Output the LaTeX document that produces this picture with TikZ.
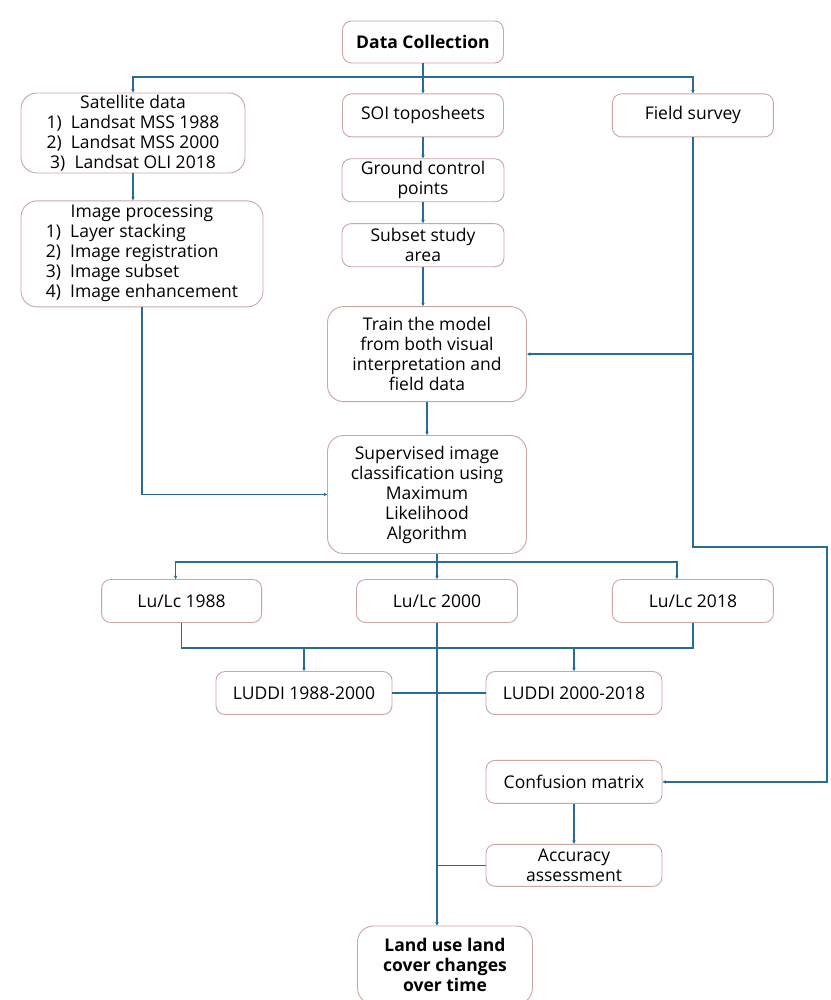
\documentclass[tikz,border=0pt]{standalone}
\usepackage{fontspec}
\setmainfont{Open Sans}
\usetikzlibrary{positioning,arrows.meta}

\definecolor{boxline}{RGB}{205,165,165}
\definecolor{flowline}{RGB}{38,108,150}

\tikzset{
  box/.style={draw=boxline, line width=0.9pt, rounded corners=9pt, fill=white,
    align=center, inner sep=1pt, text=black,
    font=\fontsize{17.5}{20}\selectfont},
  bigbox/.style={box, rounded corners=16pt},
  bbox/.style={box, font=\fontsize{17.5}{20}\selectfont\bfseries},
  flow/.style={draw=flowline, line width=1.3pt},
  >={Stealth[length=3.5pt,width=3.5pt]}
}

\begin{document}
\begin{tikzpicture}[x=1pt, y=-1pt]
\useasboundingbox[fill=white] (0,0) rectangle (830,1000);

% nodes
\node (dc) [bbox, minimum width=161pt, minimum height=42pt] at (423,42) {Data Collection};
\node (soi) [box, minimum width=161pt, minimum height=43pt, below=30pt of dc] {SOI toposheets};
\node (field) [box, minimum width=161pt, minimum height=43pt, right=108pt of soi] {Field survey};
\node (sat) [bigbox, minimum width=224pt, minimum height=80pt] at (133,133)
  {Satellite data\\ 1)~~Landsat MSS 1988\\ 2)~~Landsat MSS 2000\\ 3)~~Landsat OLI 2018};
\node (imgp) [bigbox, minimum width=242pt, minimum height=106pt, below=27pt of sat.south west, anchor=north west]
  {\begin{tabular}{@{}l@{}}\multicolumn{1}{c}{Image processing}\\ 1)~~Layer stacking\\ 2)~~Image registration\\ 3)~~Image subset\\ 4)~~Image enhancement\end{tabular}};
\node (gcp) [box, minimum width=162pt, minimum height=43pt, below=21pt of soi] {Ground control\\ points};
\node (sub) [box, minimum width=162pt, minimum height=43pt, below=21pt of gcp] {Subset study\\ area};
\node (train) [bigbox, minimum width=199pt, minimum height=95pt, below=39pt of sub, xshift=4pt]
  {Train the model\\ from both visual\\ interpretation and\\ field data};
\node (sup) [bigbox, minimum width=199pt, minimum height=118pt, below=33pt of train]
  {Supervised image\\ classification using\\ Maximum\\ Likelihood\\ Algorithm};
\node (lu00) [box, minimum width=161pt, minimum height=43pt] at (437,601) {Lu/Lc 2000};
\node (lu88) [box, minimum width=160pt, minimum height=43pt, left=94pt of lu00] {Lu/Lc 1988};
\node (lu18) [box, minimum width=161pt, minimum height=43pt, right=94pt of lu00] {Lu/Lc 2018};
\node (ld1) [box, minimum width=176pt, minimum height=43pt] at (304,693) {LUDDI 1988-2000};
\node (ld2) [box, minimum width=176pt, minimum height=43pt] at (574,693) {LUDDI 2000-2018};
\node (conf) [box, minimum width=176pt, minimum height=43pt, below=45pt of ld2] {Confusion matrix};
\node (acc) [box, minimum width=176pt, minimum height=42pt, below=40pt of conf] {Accuracy\\ assessment};
\node (land) [bbox, bigbox, font=\fontsize{17.5}{20}\selectfont\bfseries, minimum width=175pt, minimum height=78pt] at (445,965)
  {Land use land\\ cover changes\\ over time};

% junctions
\coordinate (bus1) at (423,77);
\coordinate (fr) at (827,547);
\coordinate (bus2) at (437,562);
\coordinate (bus3) at (437,648);

% arrows
\draw[flow,->] (dc.south) -- (soi.north);
\draw[flow,->] (bus1) -| (sat.north);
\draw[flow,->] (bus1) -| (field.north);
\draw[flow,->] (soi) -- (gcp);
\draw[flow,->] (gcp) -- (sub);
\draw[flow,->] (sub.south) -- (sub.south |- train.north);
\draw[flow,->] (sat) -- (sat |- imgp.north);
\draw[flow,->] (field.south) |- (train.east);
\draw[flow,->] (field.south) |- (fr) |- (conf.east);
\draw[flow,->] (imgp.south) |- (sup.west);
\draw[flow,->] (train.south) -- (sup.north);
\draw[flow] (sup.south -| bus2) -- (bus2);
\draw[flow,->] (bus2) -| ([xshift=-6pt]lu88.north);
\draw[flow,->] (bus2) -- (lu00.north);
\draw[flow,->] (bus2) -| ([xshift=-16pt]lu18.north);
\draw[flow] (lu88.south) |- (bus3) -| (lu18.south);
\draw[flow,->] (bus3 -| ld1.north) -- (ld1.north);
\draw[flow,->] (bus3 -| ld2.north) -- (ld2.north);
\draw[flow] (ld1.east) -- (ld2.west);
\draw[flow,->] (lu00.south) -- (lu00.south |- land.north);
\draw[flow,->] (conf) -- (acc);
\draw[flow] (acc.west) -- (acc.west -| lu00.south);
\end{tikzpicture}
\end{document}
